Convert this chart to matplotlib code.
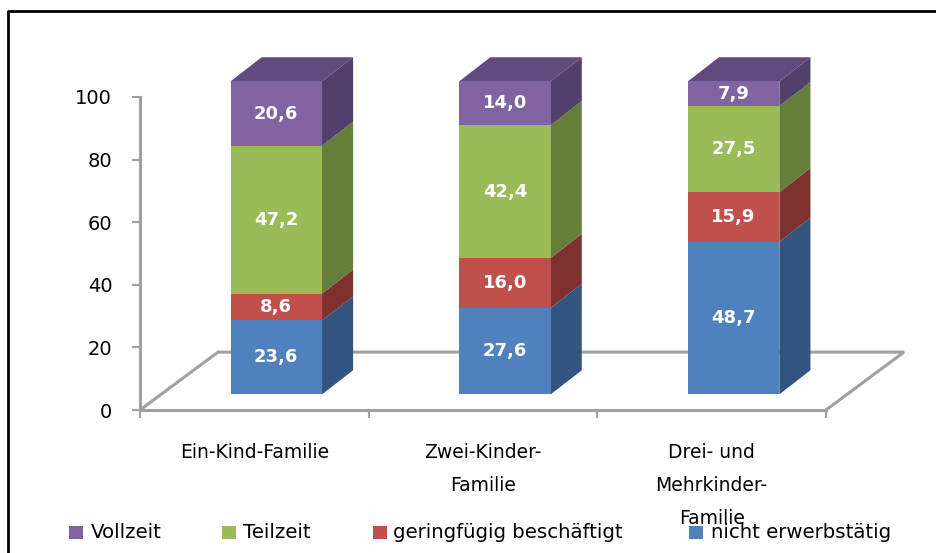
import matplotlib
matplotlib.use("Agg")
import matplotlib.pyplot as plt
from matplotlib.patches import Polygon, Rectangle
import numpy as np

# ---------------- data ----------------
categories = ["Ein-Kind-Familie", "Zwei-Kinder-\nFamilie", "Drei- und\nMehrkinder-\nFamilie"]
series_names = ["nicht erwerbstätig", "geringfügig beschäftigt", "Teilzeit", "Vollzeit"]
nicht_erwerbstaetig = [23.6, 27.6, 48.7]
geringfuegig = [8.6, 16.0, 15.9]
teilzeit = [47.2, 42.4, 27.5]
vollzeit = [20.6, 14.0, 7.9]
y_ticks = [0, 20, 40, 60, 80, 100]
legend_order = ["Vollzeit", "Teilzeit", "geringfügig beschäftigt", "nicht erwerbstätig"]

# ---------------- style ----------------
FONT = ["DejaVu Sans"]
plt.rcParams["font.family"] = FONT
front_colors = {"nicht erwerbstätig": "#4F81BD", "geringfügig beschäftigt": "#C0504D",
                "Teilzeit": "#9BBB59", "Vollzeit": "#8064A2"}
side_colors = {"nicht erwerbstätig": "#33547F", "geringfügig beschäftigt": "#7D3230",
               "Teilzeit": "#657E3A", "Vollzeit": "#523F6B"}
top_colors = {"nicht erwerbstätig": "#3C6396", "geringfügig beschäftigt": "#953C3A",
              "Teilzeit": "#799745", "Vollzeit": "#614A7E"}
floor_color = "#A0A0A0"

W, H = 936, 553
fig = plt.figure(figsize=(W / 100, H / 100), dpi=100)
ax = fig.add_axes([140 / W, (H - 410) / H, (826 - 140) / W, (410 - 97) / H])
ax.set_xlim(0, 3)
ax.set_ylim(0, 100)

# 3D projection parameters (in data units)
floor_dx, floor_dy = 0.341, 18.5   # depth of the floor
bar_dx, bar_dz = 0.096, 5.0        # position of bar front plane
depth_dx, depth_dy = 0.136, 7.7    # bar depth
bar_w = 0.40

# floor (back and side edges)
ax.plot([0, floor_dx, 3 + floor_dx, 3], [0, floor_dy, floor_dy, 0],
        color=floor_color, lw=2.2, clip_on=False, zorder=1, solid_joinstyle="miter")

series = [nicht_erwerbstaetig, geringfuegig, teilzeit, vollzeit]
x = np.arange(len(categories)) + 0.5 + bar_dx
bottom = np.zeros(len(categories))
for name, vals in zip(series_names, series):
    vals = np.array(vals)
    ax.bar(x, vals, bottom=bottom + bar_dz, width=bar_w, color=front_colors[name],
           zorder=3, clip_on=False, linewidth=0)
    for xi, b, v in zip(x, bottom, vals):
        xr = xi + bar_w / 2
        y0 = b + bar_dz
        y1 = y0 + v
        ax.add_patch(Polygon([(xr, y0), (xr + depth_dx, y0 + depth_dy),
                              (xr + depth_dx, y1 + depth_dy), (xr, y1)],
                             closed=True, facecolor=side_colors[name], edgecolor="none",
                             zorder=2.9, clip_on=False))
        ax.text(xi, y0 + v / 2, f"{v:.1f}".replace(".", ","), ha="center", va="center",
                color="white", fontsize=13, fontweight="bold", zorder=5)
    bottom = bottom + vals

# top faces
top_name = series_names[-1]
for xi, t in zip(x, bottom):
    xl, xr = xi - bar_w / 2, xi + bar_w / 2
    y1 = t + bar_dz
    ax.add_patch(Polygon([(xl, y1), (xl + depth_dx, y1 + depth_dy),
                          (xr + depth_dx, y1 + depth_dy), (xr, y1)],
                         closed=True, facecolor=top_colors[top_name], edgecolor="none",
                         zorder=2.95, clip_on=False))

# axes styling
for s in ["top", "right"]:
    ax.spines[s].set_visible(False)
ax.spines["left"].set_color(floor_color)
ax.spines["left"].set_linewidth(2.2)
ax.spines["bottom"].set_color(floor_color)
ax.spines["bottom"].set_linewidth(2.2)
ax.set_yticks(y_ticks)
ax.set_yticklabels([str(t) for t in y_ticks])
ax.tick_params(axis="y", length=6, width=1.5, color=floor_color, labelsize=14, pad=14)
ax.set_xticks([0, 1, 2, 3])
ax.set_xticklabels([])
ax.tick_params(axis="x", length=6, width=1.5, color=floor_color)
ax.patch.set_visible(False)

for i, c in enumerate(categories):
    ax.text(i + 0.5, -10.5, c, ha="center", va="top", fontsize=13.5,
            linespacing=1.95, transform=ax.transData)

# legend (manual)
leg_items = [(69, 91, "Vollzeit"), (222, 243, "Teilzeit"),
             (373, 393, "geringfügig beschäftigt"), (689, 711, "nicht erwerbstätig")]
for sx, tx, name in leg_items:
    fig.patches.append(Rectangle((sx / W, (H - 539) / H), 14 / W, 13 / H,
                                 transform=fig.transFigure, facecolor=front_colors[name],
                                 edgecolor="none"))
    fig.text(tx / W, (H - 533) / H, name, ha="left", va="center", fontsize=14.2)

# border
fig.add_artist(plt.Line2D([8 / W, 8 / W, 1.0], [0, (H - 11) / H, (H - 11) / H],
                          color="black", lw=2, transform=fig.transFigure))

fig.savefig("out.png", dpi=100)
